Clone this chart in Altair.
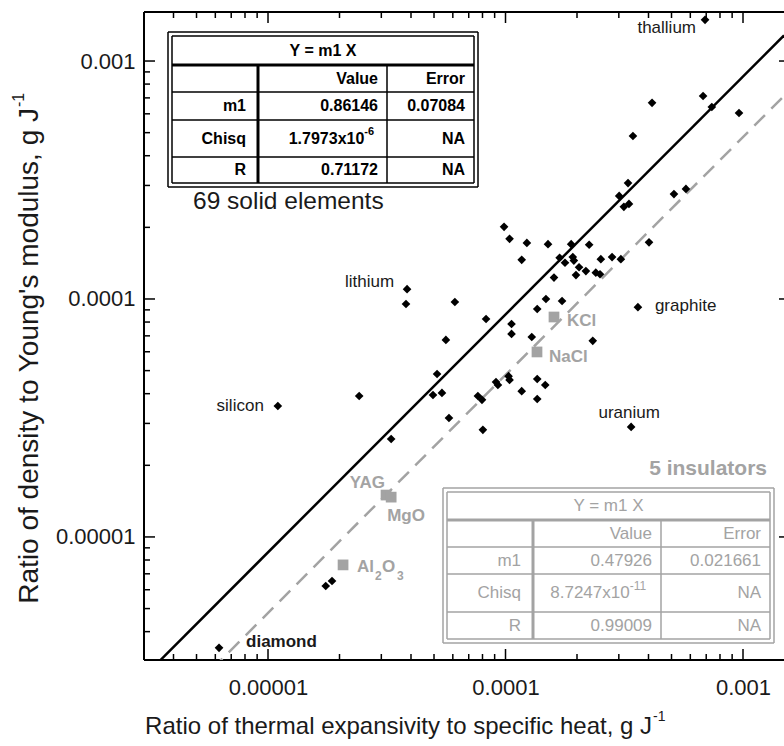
import altair as alt
import pandas as pd

# ---------------- data ----------------
# 69 solid elements (first six are the labelled ones)
elem_names = ["thallium", "lithium", "graphite", "silicon", "uranium", "diamond"]
elem_x = [6.92e-4, 3.85e-5, 3.61e-4, 1.10e-5, 3.38e-4, 6.22e-6,
          4.14e-4, 6.79e-4, 7.39e-4, 9.62e-4, 3.44e-4, 3.28e-4, 3.01e-4, 3.15e-4,
          3.31e-4, 5.12e-4, 5.75e-4, 4.02e-4, 9.86e-5, 1.04e-4, 1.23e-4, 1.51e-4,
          1.89e-4, 2.25e-4, 1.17e-4, 1.69e-4, 1.92e-4, 1.94e-4, 1.78e-4, 2.04e-4,
          2.18e-4, 1.98e-4, 2.40e-4, 2.50e-4, 2.52e-4, 2.81e-4, 3.06e-4, 1.60e-4,
          6.12e-5, 3.81e-5, 1.48e-4, 1.73e-4, 1.36e-4, 8.28e-5, 5.61e-5, 1.06e-4,
          1.06e-4, 1.29e-4, 2.33e-4, 5.15e-5, 1.03e-4, 1.04e-4, 9.12e-5, 9.29e-5,
          1.36e-4, 1.47e-4, 1.17e-4, 4.95e-5, 5.40e-5, 7.65e-5, 7.96e-5, 1.36e-4,
          2.42e-5, 5.78e-5, 8.03e-5, 3.30e-5, 1.75e-5, 1.86e-5]
elem_y = [1.49e-3, 1.10e-4, 9.24e-5, 3.55e-5, 2.90e-5, 3.42e-6,
          6.67e-4, 7.13e-4, 6.41e-4, 6.05e-4, 4.84e-4, 3.07e-4, 2.71e-4, 2.44e-4,
          2.51e-4, 2.76e-4, 2.90e-4, 1.73e-4, 2.01e-4, 1.79e-4, 1.72e-4, 1.70e-4,
          1.70e-4, 1.69e-4, 1.46e-4, 1.49e-4, 1.50e-4, 1.45e-4, 1.42e-4, 1.36e-4,
          1.31e-4, 1.26e-4, 1.29e-4, 1.27e-4, 1.47e-4, 1.50e-4, 1.47e-4, 1.23e-4,
          9.71e-5, 9.53e-5, 1.00e-4, 9.81e-5, 9.08e-5, 8.24e-5, 6.73e-5, 7.85e-5,
          7.13e-5, 6.92e-5, 6.67e-5, 4.84e-5, 4.74e-5, 4.57e-5, 4.48e-5, 4.35e-5,
          4.61e-5, 4.35e-5, 4.10e-5, 3.95e-5, 4.03e-5, 3.91e-5, 3.77e-5, 3.80e-5,
          3.91e-5, 3.16e-5, 2.82e-5, 2.58e-5, 6.22e-6, 6.53e-6]

# 5 insulators
ins_names = ["KCl", "NaCl", "YAG", "MgO", "Al2O3"]
ins_x = [1.60e-4, 1.357e-4, 3.14e-5, 3.30e-5, 2.07e-5]
ins_y = [8.40e-5, 5.99e-5, 1.50e-5, 1.47e-5, 7.63e-6]

# fits Y = m1 X
m1_elements = 0.86146
m1_insulators = 0.47926

# axes
x_domain = [3.005e-6, 1.488e-3]
y_domain = [3.04e-6, 1.607e-3]
major_ticks = [1e-5, 1e-4, 1e-3]
x_minor = [4e-6, 5e-6, 6e-6, 7e-6, 8e-6, 9e-6,
           2e-5, 3e-5, 4e-5, 5e-5, 6e-5, 7e-5, 8e-5, 9e-5,
           2e-4, 3e-4, 4e-4, 5e-4, 6e-4, 7e-4, 8e-4, 9e-4]
y_minor = x_minor

# fit tables
tab1_rows = [["m1", "0.86146", "0.07084"], ["Chisq", "1.7973x10", "NA"], ["R", "0.71172", "NA"]]
tab1_sup = "-6"
tab2_rows = [["m1", "0.47926", "0.021661"], ["Chisq", "8.7247x10", "NA"], ["R", "0.99009", "NA"]]
tab2_sup = "-11"

# ---------------- chart ----------------
W, H = 640, 648
FONT = "Liberation Sans"
GREY = "#a3a3a3"
TXT = "#1a1a1a"

xs = alt.Scale(type="log", domain=x_domain, nice=False, zero=False)
ys = alt.Scale(type="log", domain=y_domain, nice=False, zero=False)
xaxis = alt.Axis(values=major_ticks, format=".5~f", ticks=False, domain=False, grid=False,
                 labelFont=FONT, labelFontSize=22, labelColor=TXT, labelPadding=17,
                 labelFlush=False, labelOverlap=False, title=None)
yaxis = alt.Axis(values=major_ticks, format=".5~f", ticks=False, domain=False, grid=False,
                 labelFont=FONT, labelFontSize=22, labelColor=TXT, labelPadding=9,
                 labelFlush=False, labelOverlap=False, title=None)


def X(f="x"):
    return alt.X(f"{f}:Q", scale=xs, axis=xaxis)


def Y(f="y"):
    return alt.Y(f"{f}:Q", scale=ys, axis=yaxis)


elem_df = pd.DataFrame({"x": elem_x, "y": elem_y,
                        "name": elem_names + [""] * (len(elem_x) - len(elem_names))})
ins_df = pd.DataFrame({"x": ins_x, "y": ins_y, "name": ins_names})
one = pd.DataFrame({"a": [0]})

layers = []

# frame (left, top, bottom; right edge lies just outside the picture)
frame = alt.Chart(one)
layers += [
    frame.mark_rule(color="black", strokeWidth=2).encode(x=alt.value(0), y=alt.value(0), y2=alt.value(H)),
    frame.mark_rule(color="black", strokeWidth=2).encode(x=alt.value(0), x2=alt.value(W + 10), y=alt.value(0)),
    frame.mark_rule(color="black", strokeWidth=2).encode(x=alt.value(0), x2=alt.value(W + 10), y=alt.value(H)),
]

# inward ticks on all four sides
RIGHT = W + 6
for vals, ln in ((major_ticks, 11), (x_minor, 6)):
    d = pd.DataFrame({"x": vals, "y": vals})
    c = alt.Chart(d).mark_rule(color="black", strokeWidth=1.5)
    layers += [
        c.encode(x=X(), y=alt.value(H), y2=alt.value(H - ln)),
        c.encode(x=X(), y=alt.value(0), y2=alt.value(ln)),
        c.encode(y=Y(), x=alt.value(0), x2=alt.value(ln)),
        c.encode(y=Y(), x=alt.value(RIGHT), x2=alt.value(RIGHT - ln)),
    ]

# fit lines
line_df = pd.DataFrame({"x": x_domain})
layers.append(alt.Chart(line_df).transform_calculate(y=f"{m1_insulators} * datum.x")
              .mark_line(color=GREY, strokeWidth=2.5, strokeDash=[15, 9], clip=True)
              .encode(x=X(), y=Y()))
layers.append(alt.Chart(line_df).transform_calculate(y=f"{m1_elements} * datum.x")
              .mark_line(color="black", strokeWidth=2.5, clip=True)
              .encode(x=X(), y=Y()))

# points
layers.append(alt.Chart(elem_df).mark_point(shape="diamond", filled=True, size=75, color="black", opacity=1)
              .encode(x=X(), y=Y()))
layers.append(alt.Chart(ins_df).mark_point(shape="square", filled=True, size=115, color=GREY, opacity=1)
              .encode(x=X(), y=Y()))


# point labels
def plabel(df, name, text, dx, dy, align="left", weight="normal", color=TXT, size=17):
    return (alt.Chart(df).transform_filter(alt.datum.name == name)
            .mark_text(align=align, baseline="middle", dx=dx, dy=dy, font=FONT,
                       fontWeight=weight, fontSize=size, color=color)
            .encode(x=X(), y=Y(), text=alt.value(text)))


layers += [
    plabel(elem_df, "thallium", "thallium", -9, 8, "right"),
    plabel(elem_df, "lithium", "lithium", -13, -7, "right"),
    plabel(elem_df, "graphite", "graphite", 17, -1, "left"),
    plabel(elem_df, "silicon", "silicon", -14, 0, "right"),
    plabel(elem_df, "uranium", "uranium", -2, -14, "center"),
    plabel(elem_df, "diamond", "diamond", 27, -6, "left", "bold"),
    plabel(ins_df, "KCl", "KCl", 13, 4, "left", "bold", GREY),
    plabel(ins_df, "NaCl", "NaCl", 12, 5, "left", "bold", GREY),
    plabel(ins_df, "YAG", "YAG", -1, -12, "right", "bold", GREY),
    plabel(ins_df, "MgO", "MgO", -4, 19, "left", "bold", GREY),
    plabel(ins_df, "Al2O3", "Al", 14, 2, "left", "bold", GREY),
    plabel(ins_df, "Al2O3", "2", 32, 11, "left", "bold", GREY, 12),
    plabel(ins_df, "Al2O3", "O", 39, 2, "left", "bold", GREY, 17),
    plabel(ins_df, "Al2O3", "3", 54, 11, "left", "bold", GREY, 12),
]


# ---------------- fit tables (drawn in pixel space of the plot) ----------------
def table(x0, y0, x1, y1, hdr, rows_y, col1, col2, color, rows, sup, bold, fs, sup_fs):
    segs = []
    for k, w in ((0, 1.5), (4, 1.5)):
        segs += [[x0 + k, x1 - k, y0 + k, y0 + k, w], [x0 + k, x1 - k, y1 - k, y1 - k, w],
                 [x0 + k, x0 + k, y0 + k, y1 - k, w], [x1 - k, x1 - k, y0 + k, y1 - k, w]]
    segs.append([x0 + 4, x1 - 4, hdr, hdr, 3])
    for ry in rows_y[1:]:
        segs.append([x0 + 4, x1 - 4, ry, ry, 1.5])
    segs.append([col1, col1, hdr, y1 - 4, 3])
    segs.append([col2, col2, hdr, y1 - 4, 1.5])
    sd = pd.DataFrame(segs, columns=["px", "px2", "py", "py2", "w"])
    out = [alt.Chart(sd).mark_rule(color=color).encode(
        x=alt.X("px:Q", scale=None, axis=None), x2="px2:Q",
        y=alt.Y("py:Q", scale=None, axis=None), y2="py2:Q",
        strokeWidth=alt.StrokeWidth("w:Q", scale=None, legend=None))]
    weight = "bold" if bold else "normal"
    out.append(alt.Chart(one).mark_text(align="center", baseline="middle", font=FONT, fontWeight=weight,
                                        fontSize=fs, color=color)
               .encode(x=alt.value((x0 + x1) / 2), y=alt.value((y0 + 4 + hdr) / 2), text=alt.value("Y = m1 X")))
    cells = []
    ys_ = [hdr] + rows_y[1:] + [y1 - 4]
    centers = [(ys_[i] + ys_[i + 1]) / 2 for i in range(len(ys_) - 1)]
    sup_w = 0.62 * sup_fs * len(sup)
    cells.append([col2 - 9, centers[0], "Value"])
    cells.append([x1 - 13, centers[0], "Error"])
    for r, cy in zip(rows, centers[1:]):
        sw = sup_w if r[0] == "Chisq" else 0
        cells.append([col1 - 12, cy, r[0]])
        cells.append([col2 - 9 - sw, cy, r[1]])
        cells.append([x1 - 13, cy, r[2]])
    cd = pd.DataFrame(cells, columns=["px", "py", "t"])
    out.append(alt.Chart(cd).mark_text(align="right", baseline="middle", font=FONT, fontWeight=weight,
                                       fontSize=fs, color=color)
               .encode(x=alt.X("px:Q", scale=None, axis=None), y=alt.Y("py:Q", scale=None, axis=None),
                       text="t:N"))
    out.append(alt.Chart(one).mark_text(align="left", baseline="middle", font=FONT, fontWeight=weight,
                                        fontSize=sup_fs, color=color, dy=-7)
               .encode(x=alt.value(col2 - 9 - sup_w), y=alt.value(centers[2]), text=alt.value(sup)))
    return out


layers += table(24, 20, 334, 175, 53, [53, 80, 108, 145], 114, 243, "black", tab1_rows, tab1_sup,
                True, 16, 11)
layers += table(299, 476, 630, 631, 508, [508, 535, 562, 600], 389, 517, GREY, tab2_rows, tab2_sup,
                False, 17, 12)

# captions of the two fits
layers.append(alt.Chart(one).mark_text(align="left", baseline="middle", font=FONT, fontSize=24.5, color=TXT)
              .encode(x=alt.value(49), y=alt.value(190), text=alt.value("69 solid elements")))
layers.append(alt.Chart(one).mark_text(align="right", baseline="middle", font=FONT, fontSize=21,
                                       fontWeight="bold", color=GREY)
              .encode(x=alt.value(623), y=alt.value(457), text=alt.value("5 insulators")))

# axis titles with superscripts
layers.append(alt.Chart(one).mark_text(align="right", baseline="middle", font=FONT, fontSize=24, color=TXT)
              .encode(x=alt.value(508), y=alt.value(715),
                      text=alt.value("Ratio of thermal expansivity to specific heat, g J")))
layers.append(alt.Chart(one).mark_text(align="left", baseline="middle", font=FONT, fontSize=14, color=TXT,
                                       dx=1, dy=-10)
              .encode(x=alt.value(508), y=alt.value(715), text=alt.value("-1")))
layers.append(alt.Chart(one).mark_text(align="right", baseline="middle", font=FONT, fontSize=28, color=TXT,
                                       angle=270)
              .encode(x=alt.value(-114), y=alt.value(96),
                      text=alt.value("Ratio of density to Young's modulus, g J")))
layers.append(alt.Chart(one).mark_text(align="left", baseline="middle", font=FONT, fontSize=16, color=TXT,
                                       angle=270, dx=1, dy=-11)
              .encode(x=alt.value(-114), y=alt.value(96), text=alt.value("-1")))

chart = (alt.layer(*layers)
         .properties(width=W, height=H,
                     autosize=alt.AutoSizeParams(type="none"),
                     padding={"left": 144, "top": 12, "right": 0, "bottom": 86},
                     background="white")
         .configure_view(strokeWidth=0))

chart.save("out.html", embed_options={"renderer": "svg", "actions": False})
